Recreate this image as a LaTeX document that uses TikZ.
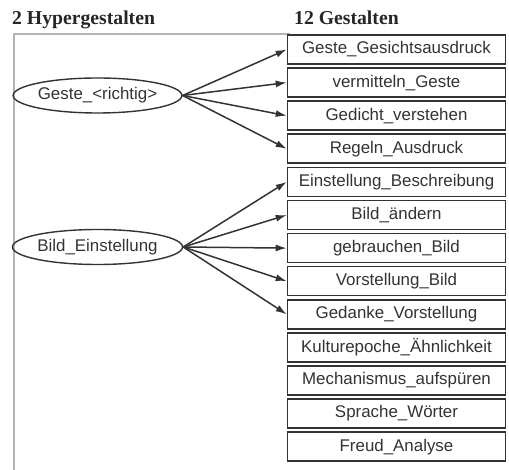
\documentclass[tikz,border=0pt]{standalone}
\usepackage{fontspec}
\setmainfont{Liberation Sans}
\newfontfamily\headfont{Liberation Serif}
\usetikzlibrary{shapes.geometric,arrows.meta}
\definecolor{framegray}{HTML}{B4B4B4}
\definecolor{inkgray}{HTML}{333333}
\tikzset{
  gbox/.style={draw=inkgray, line width=1.6pt, minimum width=218pt, minimum height=29pt,
    inner sep=0pt, text=inkgray, font=\fontsize{16.9}{18}\selectfont},
  hyper/.style={ellipse, draw=inkgray, line width=1.4pt, minimum width=165pt, minimum height=35pt,
    inner sep=0pt, text=inkgray, font=\fontsize{16.9}{18}\selectfont},
  head/.style={anchor=base west, inner sep=0pt, font=\headfont\bfseries\fontsize{19.7}{22}\selectfont, text=black!85}
}
\begin{document}
\begin{tikzpicture}[x=1pt, y=-1pt, >={Latex[length=11pt,width=7pt]}]
\useasboundingbox (0,0) rectangle (509,470);

\node[head] (hl) at (12,25) {2 Hypergestalten};
\node[head] (hr) at (294,25) {12 Gestalten};

% frame
\draw[framegray, line width=2pt] (14,470) -- (14,34.5) -- (290,34.5);

\foreach \t [count=\i] in {Geste\_Gesichtsausdruck, vermitteln\_Geste, Gedicht\_verstehen,
  Regeln\_Ausdruck, Einstellung\_Beschreibung, Bild\_ändern, gebrauchen\_Bild,
  Vorstellung\_Bild, Gedanke\_Vorstellung, Kulturepoche\_Ähnlichkeit,
  Mechanismus\_aufspüren, Sprache\_Wörter, Freud\_Analyse}
{
    \node[gbox, fill=white] (g\i) at (396.5, 49.5+33.1*\i-33.1) {\t};
}

\node[hyper] (geste) at (97.5,95.5) {Geste\_<richtig>};
\node[hyper] (bild) at (97.5,247) {Bild\_Einstellung};

\foreach \i in {1,...,4}
    \draw[->, inkgray, line width=1.5pt] (geste.east) -- (g\i.west);
\foreach \i in {5,...,9}
    \draw[->, inkgray, line width=1.5pt] (bild.east) -- (g\i.west);

\end{tikzpicture}
\end{document}
